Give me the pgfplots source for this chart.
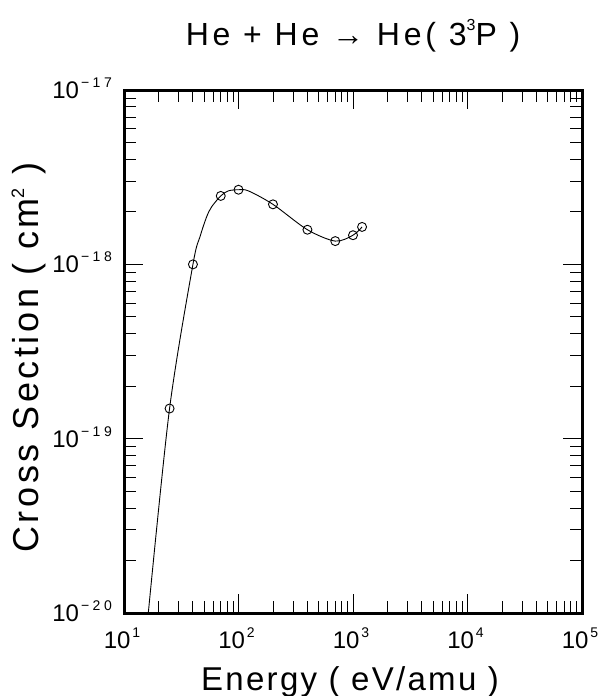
\documentclass[border=0pt]{standalone}
\usepackage{fontspec}
\setmainfont{Liberation Sans}
\newfontfamily\ttl[LetterSpace=7]{Liberation Sans}
\newfontfamily\ttly[LetterSpace=10]{Liberation Sans}
\newfontfamily\ttll[LetterSpace=12]{Liberation Sans}
\newfontfamily\supf[LetterSpace=25]{Liberation Sans}
\usepackage{pgfplots}
\pgfplotsset{compat=1.18}
\newcommand{\tl}[1]{{\fontsize{24bp}{24bp}\selectfont 10\hspace{2bp}\raisebox{11bp}{\supf\fontsize{14bp}{14bp}\selectfont #1}}}
\newcommand{\txl}[1]{{\fontsize{24bp}{24bp}\selectfont 10\hspace{2bp}\raisebox{11bp}{\fontsize{14bp}{14bp}\selectfont #1}}}
\begin{document}
\begin{tikzpicture}
\useasboundingbox (0bp,0bp) rectangle (598bp,696bp);
\begin{axis}[
  at={(124bp,83bp)}, anchor=south west,
  scale only axis, width=458bp, height=523bp,
  xmode=log, ymode=log,
  xmin=10, xmax=1e5, ymin=1e-20, ymax=1e-17,
  axis line style={line width=3bp},
  tick align=inside,
  major tick length=19bp, minor tick length=12bp,
  every tick/.style={black, line width=0.9bp},
  xtick={10,100,1000,10000,100000},
  xticklabels={\txl{1},\txl{2},\txl{3},\txl{4},\txl{5}},
  minor xtick={20,30,40,50,60,70,80,90,200,300,400,500,600,700,800,900,2000,3000,4000,5000,6000,7000,8000,9000,20000,30000,40000,50000,60000,70000,80000,90000},
  ytick={1e-20,1e-19,1e-18,1e-17},
  yticklabels={\tl{−20},\tl{−19},\tl{−18},\tl{−17}},
  minor ytick={2e-20,3e-20,4e-20,5e-20,6e-20,7e-20,8e-20,9e-20,2e-19,3e-19,4e-19,5e-19,6e-19,7e-19,8e-19,9e-19,2e-18,3e-18,4e-18,5e-18,6e-18,7e-18,8e-18,9e-18},
  xticklabel style={anchor=base, inner sep=0pt, yshift=-35bp, xshift=-2bp},
  yticklabel style={anchor=base east, inner sep=0pt, xshift=-12bp, yshift=-8.5bp},
  title={He + He → He( 3\raisebox{15bp}{\fontsize{16bp}{16bp}\selectfont 3}P )},
  title style={at={(axis description cs:0.5,1)}, anchor=base, inner sep=0pt, yshift=39bp, font=\ttll\fontsize{32bp}{32bp}\selectfont},
  xlabel={Energy ( eV/amu )},
  xlabel style={at={(axis description cs:0.5,0)}, anchor=base, inner sep=0pt, yshift=-77bp, xshift=-3bp, font=\ttl\fontsize{33bp}{33bp}\selectfont},
  ylabel={Cross Section ( cm\raisebox{14bp}{\fontsize{18bp}{18bp}\selectfont 2} )},
  ylabel style={at={(axis description cs:0,0.5)}, anchor=base, inner sep=0pt, yshift=86bp, xshift=-6bp, font=\ttly\fontsize{36bp}{36bp}\selectfont},
]
\addplot[black, line width=0.9bp, smooth] coordinates {
(16.3,1e-20) (25,1.49e-19) (40,1.0e-18) (46.1,1.44e-18) (52.7,1.875e-18)
(58.3,2.14e-18) (70,2.47e-18) (81.5,2.64e-18) (100,2.68e-18) (122,2.64e-18)
(200,2.21e-18) (400,1.58e-18) (700,1.36e-18) (1000,1.47e-18) (1200,1.64e-18)};
\addplot[black, only marks, mark=o, mark size=4.5bp, mark options={line width=0.9bp}] coordinates {
(25,1.49e-19) (40,1.0e-18) (70,2.47e-18) (100,2.68e-18) (200,2.21e-18)
(400,1.58e-18) (700,1.36e-18) (1000,1.47e-18) (1200,1.64e-18)};
\end{axis}
\end{tikzpicture}
\end{document}
